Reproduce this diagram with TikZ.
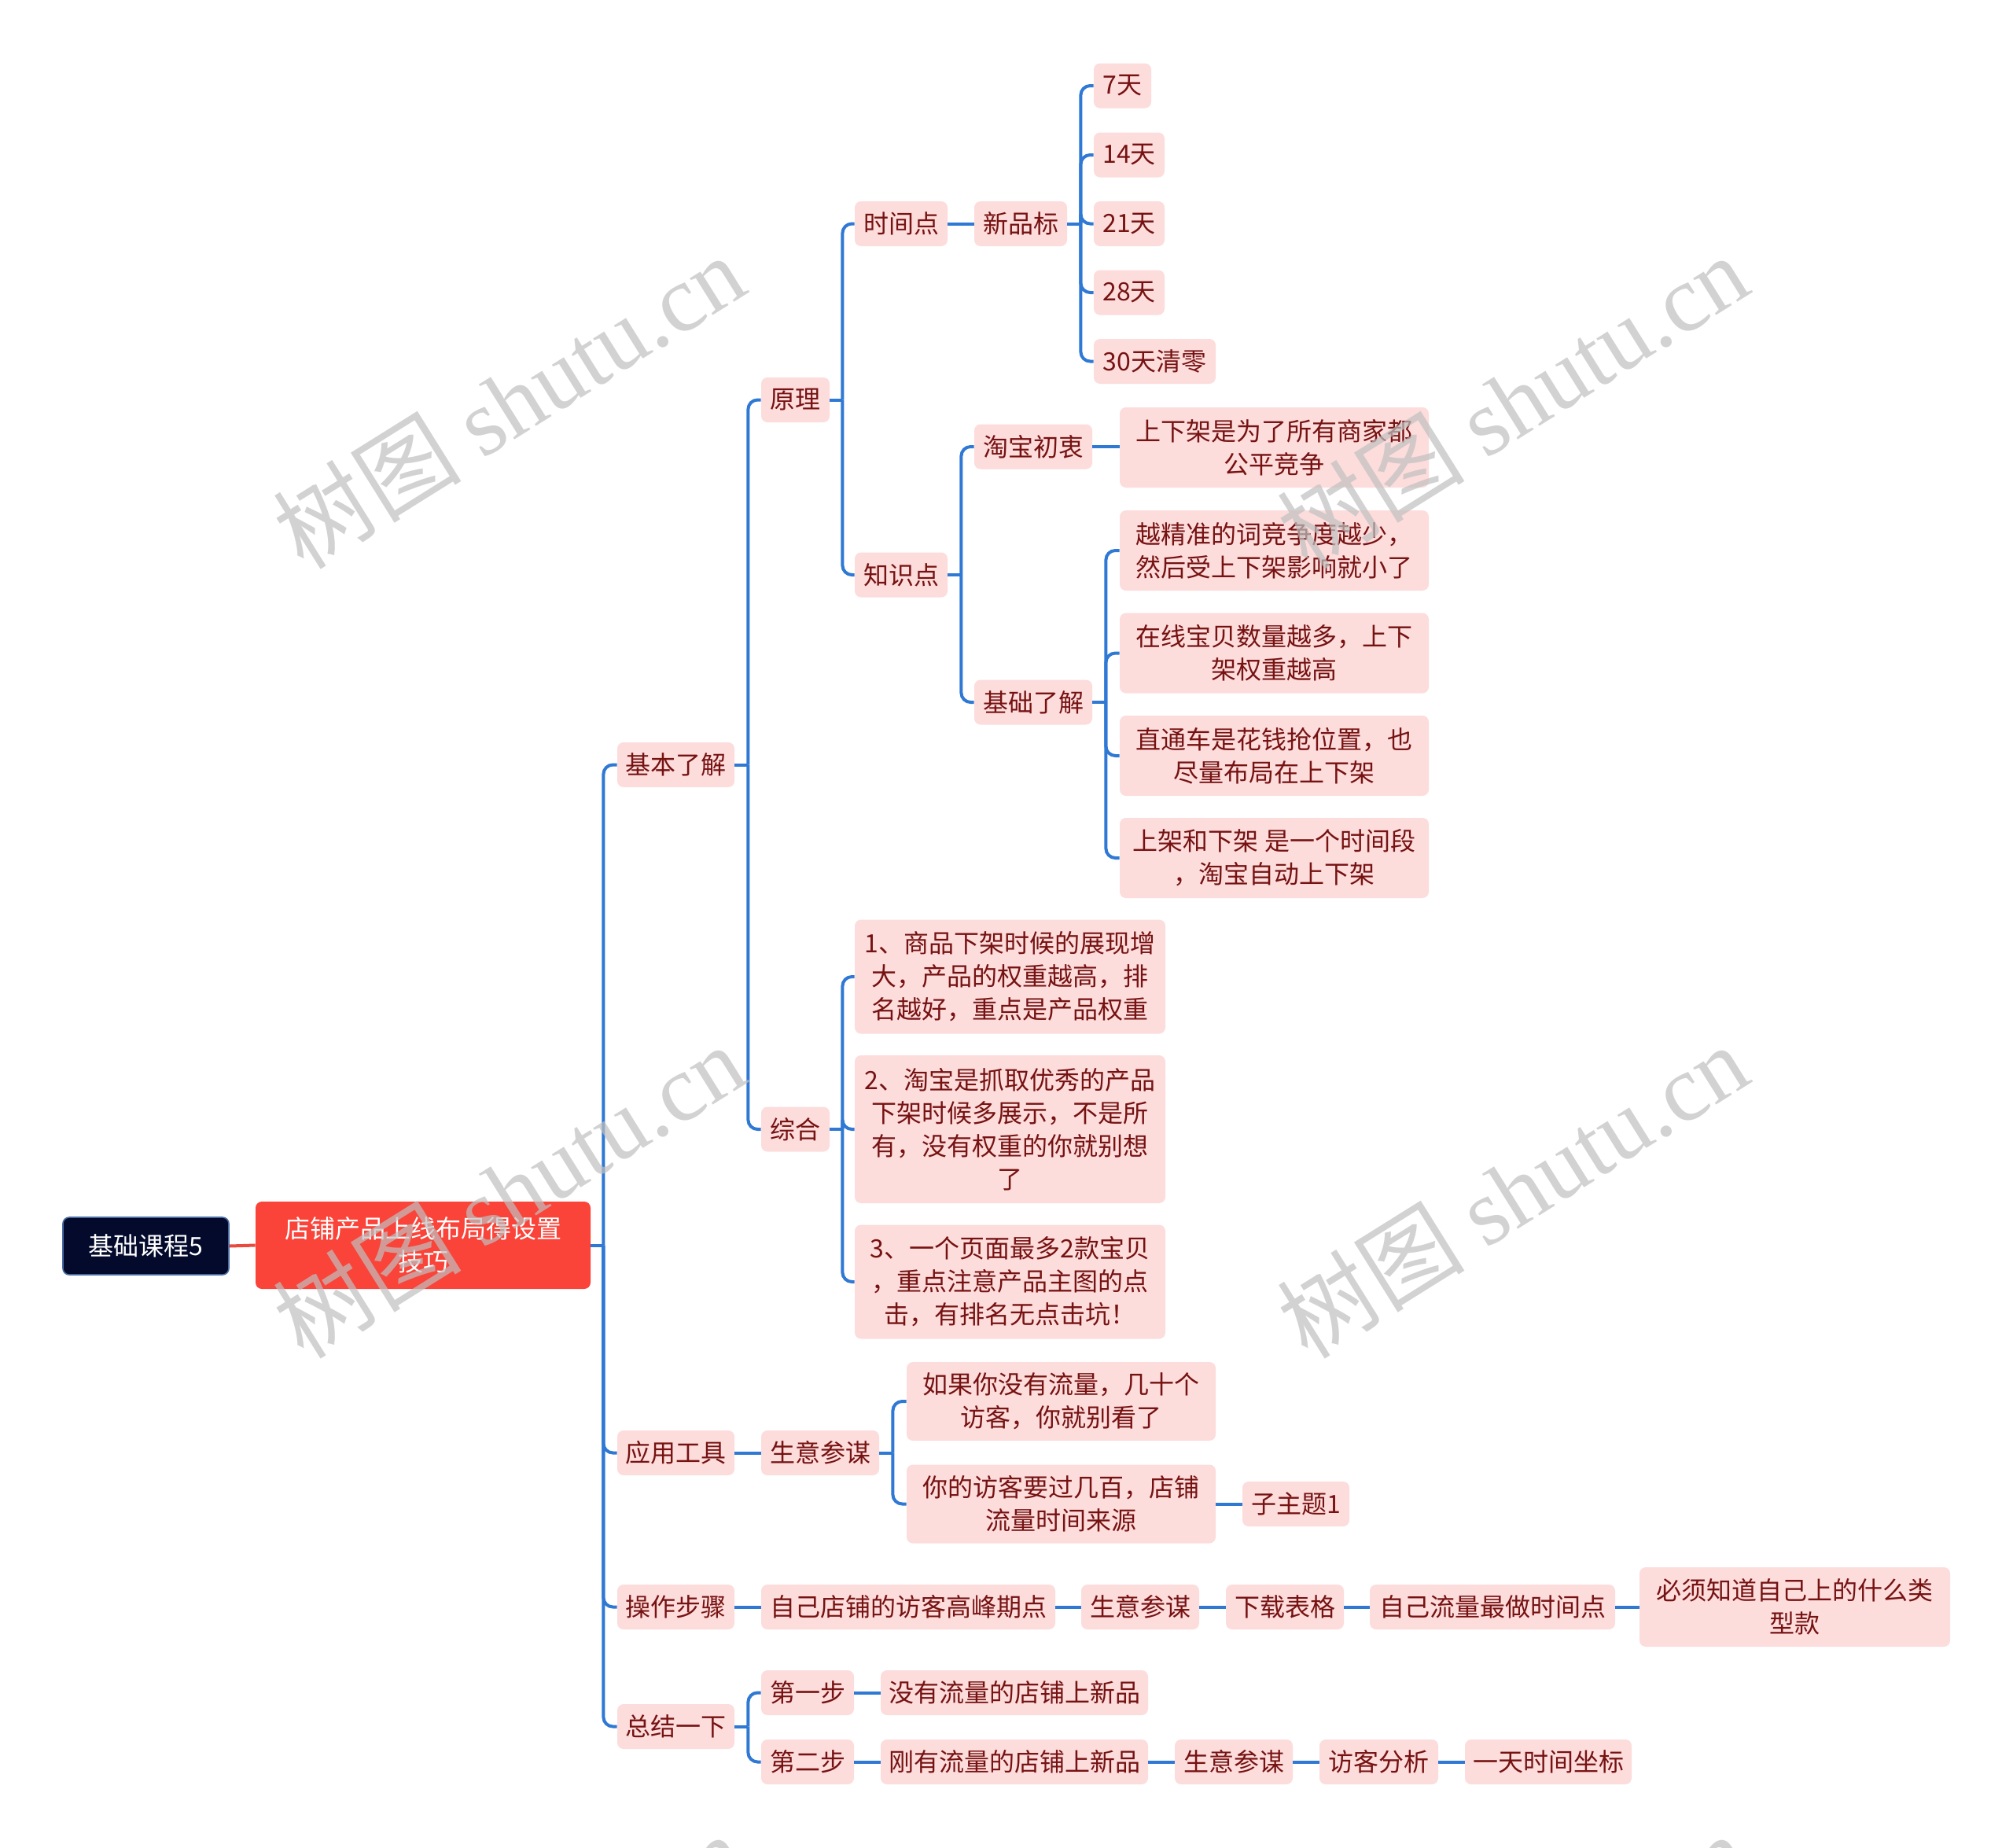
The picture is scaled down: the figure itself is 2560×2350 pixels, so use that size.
\documentclass[tikz,border=0pt]{standalone}
\usepackage{fontspec}
\setmainfont{Noto Sans CJK SC}
\newfontfamily\cjk{Noto Sans CJK SC}
\newfontfamily\wmserif{Liberation Serif}
\usetikzlibrary{calc}
\definecolor{pinkbg}{HTML}{FDDCDC}
\definecolor{txtred}{HTML}{761212}
\definecolor{lineblue}{HTML}{2F78D4}
\definecolor{rootbg}{HTML}{030A2C}
\definecolor{rootborder}{HTML}{4A6BA0}
\definecolor{mainred}{HTML}{FA4339}
\definecolor{linered}{HTML}{E84A3E}
\definecolor{wmgray}{HTML}{C0C0C0}
\tikzset{
  tp/.style={fill=pinkbg, text=txtred, rounded corners=4pt, inner sep=0pt, align=center,
    font=\cjk\fontsize{16pt}{21pt}\selectfont},
  lone/.style={tp, minimum width=74.5pt, minimum height=28.5pt},
  rootbox/.style={fill=rootbg, draw=rootborder, line width=0.8pt, text=white, rounded corners=4pt,
    inner sep=0pt, align=center, font=\cjk\fontsize{16pt}{21pt}\selectfont},
  mainbox/.style={fill=mainred, text=white, rounded corners=4pt, inner sep=0pt, align=center,
    font=\cjk\fontsize{16pt}{21pt}\selectfont},
  conn/.style={draw=lineblue, line width=2pt},
  br/.style={conn, rounded corners=6pt},
  wm/.style={text=wmgray, opacity=0.7, font=\fontsize{60pt}{60pt}\selectfont, inner sep=0pt},
}
\begin{document}
\begin{tikzpicture}[x=0.5pt, y=-0.5pt]
\useasboundingbox (0,0) rectangle (2560,2350);
\fill[white] (0,0) rectangle (2560,2350);

% root and main
\node[rootbox, minimum width=105.5pt, minimum height=36.5pt] (root) at (185.5,1584.5) {基础课程5};
\node[mainbox, minimum width=213pt, minimum height=55.5pt] (main) at (538,1583.5) {店铺产品上线布局得设置\\技巧};

% level 1
\node[lone] (jbl) at (859.5,972.5) {基本了解};
\node[lone] (yygj) at (859.5,1847.5) {应用工具};
\node[lone] (czbz) at (859.5,2043.5) {操作步骤};
\node[lone] (zjyx) at (859.5,2195.5) {总结一下};

% 基本了解 branch
\node[tp, minimum width=43.5pt, minimum height=28.5pt] (yl) at (1011.5,508.5) {原理};
\node[tp, minimum width=43.5pt, minimum height=28.5pt] (zh) at (1011.5,1436) {综合};

\node[tp, minimum width=59pt, minimum height=28.5pt] (sjd) at (1146,284.5) {时间点};
\node[tp, minimum width=59pt, minimum height=28.5pt] (xpb) at (1298,284.5) {新品标};
\node[tp, minimum width=36.5pt, minimum height=28.5pt] (d7) at (1427.5,109) {7天};
\node[tp, minimum width=45pt, minimum height=28.5pt] (d14) at (1436,197) {14天};
\node[tp, minimum width=45pt, minimum height=28.5pt] (d21) at (1436,284.5) {21天};
\node[tp, minimum width=45pt, minimum height=28.5pt] (d28) at (1436,372) {28天};
\node[tp, minimum width=77.5pt, minimum height=28.5pt] (d30) at (1468.5,459.5) {30天清零};

\node[tp, minimum width=59pt, minimum height=28.5pt] (zsd) at (1146,731) {知识点};
\node[tp, minimum width=75pt, minimum height=28.5pt] (tbcz) at (1314,568) {淘宝初衷};
\node[tp, minimum width=196.5pt, minimum height=51pt] (tbc1) at (1620.5,569) {上下架是为了所有商家都\\公平竞争};
\node[tp, minimum width=75pt, minimum height=28.5pt] (jcl) at (1314,893) {基础了解};
\node[tp, minimum width=196.5pt, minimum height=51pt] (k1) at (1620.5,700) {越精准的词竞争度越少，\\然后受上下架影响就小了};
\node[tp, minimum width=196.5pt, minimum height=51pt] (k2) at (1620.5,830.5) {在线宝贝数量越多，上下\\架权重越高};
\node[tp, minimum width=196.5pt, minimum height=51pt] (k3) at (1620.5,961) {直通车是花钱抢位置，也\\尽量布局在上下架};
\node[tp, minimum width=196.5pt, minimum height=51pt] (k4) at (1620.5,1091) {上架和下架 是一个时间段\\，淘宝自动上下架};

\node[tp, minimum width=197.5pt, minimum height=72.5pt] (z1) at (1284.5,1242) {1、商品下架时候的展现增\\大，产品的权重越高，排\\名越好，重点是产品权重};
\node[tp, minimum width=197.5pt, minimum height=94pt] (z2) at (1284.5,1436) {2、淘宝是抓取优秀的产品\\下架时候多展示，不是所\\有，没有权重的你就别想\\了};
\node[tp, minimum width=197.5pt, minimum height=72.5pt] (z3) at (1284.5,1630) {3、一个页面最多2款宝贝\\，重点注意产品主图的点\\击，有排名无点击坑！};

% 应用工具 branch
\node[tp, minimum width=75pt, minimum height=28.5pt] (sycm1) at (1043,1847.5) {生意参谋};
\node[tp, minimum width=196.5pt, minimum height=50pt] (a1) at (1349.5,1782) {如果你没有流量，几十个\\访客，你就别看了};
\node[tp, minimum width=196.5pt, minimum height=50pt] (a2) at (1349.5,1912.5) {你的访客要过几百，店铺\\流量时间来源};
\node[tp, minimum width=68pt, minimum height=28.5pt] (zzt) at (1648,1912.5) {子主题1};

% 操作步骤 branch
\node[tp, minimum width=187pt, minimum height=28.5pt] (b1) at (1155,2043.5) {自己店铺的访客高峰期点};
\node[tp, minimum width=75pt, minimum height=28.5pt] (b2) at (1450,2043.5) {生意参谋};
\node[tp, minimum width=75pt, minimum height=28.5pt] (b3) at (1634,2043.5) {下载表格};
\node[tp, minimum width=156pt, minimum height=28.5pt] (b4) at (1898,2043.5) {自己流量最做时间点};
\node[tp, minimum width=197.5pt, minimum height=50.5pt] (b5) at (2282.5,2043.5) {必须知道自己上的什么类\\型款};

% 总结一下 branch
\node[tp, minimum width=59pt, minimum height=28.5pt] (s1) at (1027,2152.5) {第一步};
\node[tp, minimum width=170pt, minimum height=28.5pt] (s1a) at (1290,2152.5) {没有流量的店铺上新品};
\node[tp, minimum width=59pt, minimum height=28.5pt] (s2) at (1027,2240.5) {第二步};
\node[tp, minimum width=170pt, minimum height=28.5pt] (s2a) at (1290,2240.5) {刚有流量的店铺上新品};
\node[tp, minimum width=75pt, minimum height=28.5pt] (s2b) at (1569,2240.5) {生意参谋};
\node[tp, minimum width=75.5pt, minimum height=28.5pt] (s2c) at (1753.5,2240.5) {访客分析};
\node[tp, minimum width=106pt, minimum height=28.5pt] (s2d) at (1969,2240.5) {一天时间坐标};

% connectors
\draw[draw=linered, line width=2pt] (root.east) -- (main.west);

\draw[conn] (main.east) -- ++(16,0);
\foreach \c in {jbl,yygj,czbz,zjyx} \draw[br] ($(main.east)+(16,0)$) |- (\c.west);

\draw[conn] (jbl.east) -- ++(17,0);
\foreach \c in {yl,zh} \draw[br] ($(jbl.east)+(17,0)$) |- (\c.west);

\draw[conn] (yl.east) -- ++(16,0);
\foreach \c in {sjd,zsd} \draw[br] ($(yl.east)+(16,0)$) |- (\c.west);

\draw[conn] (sjd.east) -- (xpb.west);
\draw[conn] (xpb.east) -- ++(17,0);
\foreach \c in {d7,d14,d21,d28,d30} \draw[br] ($(xpb.east)+(17,0)$) |- (\c.west);

\draw[conn] (zsd.east) -- ++(17,0);
\foreach \c in {tbcz,jcl} \draw[br] ($(zsd.east)+(17,0)$) |- (\c.west);
\draw[conn] (tbcz.east) -- (tbcz.east -| tbc1.west);
\draw[conn] (jcl.east) -- ++(17,0);
\foreach \c in {k1,k2,k3,k4} \draw[br] ($(jcl.east)+(17,0)$) |- (\c.west);

\draw[conn] (zh.east) -- ++(16,0);
\foreach \c in {z1,z2,z3} \draw[br] ($(zh.east)+(16,0)$) |- (\c.west);

\draw[conn] (yygj.east) -- (sycm1.west);
\draw[conn] (sycm1.east) -- ++(17,0);
\foreach \c in {a1,a2} \draw[br] ($(sycm1.east)+(17,0)$) |- (\c.west);
\draw[conn] (a2.east) -- (zzt.west);

\draw[conn] (czbz.east) -- (b1.west);
\draw[conn] (b1.east) -- (b2.west);
\draw[conn] (b2.east) -- (b3.west);
\draw[conn] (b3.east) -- (b4.west);
\draw[conn] (b4.east) -- (b5.west);

\draw[conn] (zjyx.east) -- ++(17,0);
\foreach \c in {s1,s2} \draw[br] ($(zjyx.east)+(17,0)$) |- (\c.west);
\draw[conn] (s1.east) -- (s1a.west);
\draw[conn] (s2.east) -- (s2a.west);
\draw[conn] (s2a.east) -- (s2b.west);
\draw[conn] (s2b.east) -- (s2c.west);
\draw[conn] (s2c.east) -- (s2d.west);

% watermarks
\begin{scope}
\clip (0,0) rectangle (2560,2350);
\foreach \wx/\wy [count=\i] in {647/510, 1923/510, 647/1514, 1923/1514, 647/2518, 1923/2518}
  \node[wm, rotate=32] (wm\i) at (\wx,\wy) {{\cjk 树图} {\wmserif shutu.cn}};
\end{scope}
\end{tikzpicture}
\end{document}
